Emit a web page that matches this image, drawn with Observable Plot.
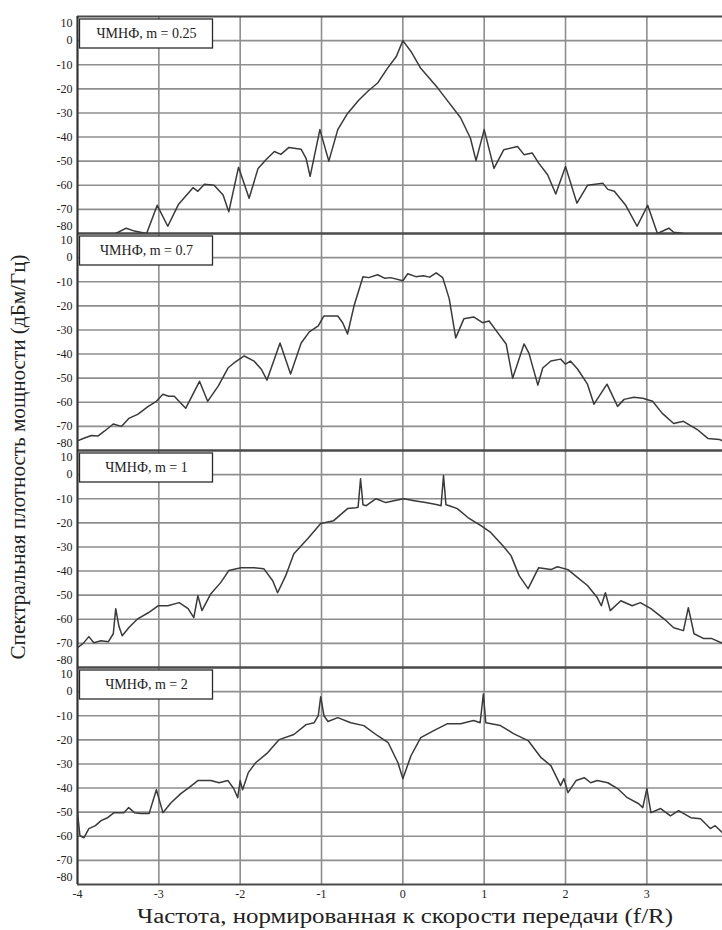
<!DOCTYPE html>
<html><head><meta charset="utf-8">
<script src="https://cdn.jsdelivr.net/npm/d3@7"></script>
<script src="https://cdn.jsdelivr.net/npm/@observablehq/plot@0.6"></script>
<style>body{margin:0;background:#fff;}</style>
</head><body><div id="chart"></div>
<script>
const panelKeys = ["0.25", "0.7", "1", "2"];
const panelLabels = ["ЧМНФ, m = 0.25", "ЧМНФ, m = 0.7", "ЧМНФ, m = 1", "ЧМНФ, m = 2"];

const f025 = [-4.0,-3.6,-3.5,-3.4,-3.3,-3.15,-3.02,-2.89,-2.76,-2.58,-2.52,-2.44,-2.32,-2.21,-2.14,-2.02,-1.89,-1.78,-1.68,-1.58,-1.50,-1.40,-1.25,-1.19,-1.14,-1.02,-0.91,-0.80,-0.68,-0.54,-0.43,-0.31,-0.19,-0.08,0,0.10,0.22,0.43,0.55,0.71,0.83,0.90,1.0,1.12,1.24,1.41,1.49,1.59,1.67,1.78,1.88,2.0,2.14,2.27,2.46,2.52,2.6,2.74,2.88,3.01,3.13,3.27,3.33,3.45,3.6,3.93];
const p025 = [-84,-81,-79.5,-77.8,-79,-80,-68.3,-77,-68,-61,-62.5,-59.6,-60,-64,-71,-52.5,-65.4,-53,-49.3,-46,-47.2,-44.3,-45.1,-48.8,-56.3,-36.9,-50,-36.9,-30.2,-24.6,-21,-17.6,-11.5,-6.6,0,-4.5,-11.5,-19.7,-25,-32,-40.4,-49.8,-36.9,-53,-45.3,-43.9,-47.3,-46.6,-50.8,-55.6,-63.6,-52.2,-67.4,-60,-59.2,-61.7,-62.5,-68.3,-77,-68.3,-80,-77.8,-79.5,-80,-82,-85];

const f07 = [-4.0,-3.93,-3.83,-3.75,-3.67,-3.56,-3.46,-3.37,-3.26,-3.13,-3.03,-2.95,-2.88,-2.81,-2.67,-2.5,-2.4,-2.27,-2.15,-2.08,-1.95,-1.83,-1.74,-1.67,-1.51,-1.38,-1.25,-1.15,-1.04,-0.97,-0.80,-0.74,-0.68,-0.6,-0.49,-0.42,-0.31,-0.22,-0.15,0,0.06,0.16,0.25,0.33,0.41,0.49,0.57,0.65,0.75,0.87,0.98,1.06,1.17,1.27,1.35,1.49,1.55,1.66,1.72,1.82,1.94,2.0,2.06,2.15,2.27,2.35,2.51,2.64,2.72,2.84,2.95,3.07,3.19,3.33,3.45,3.62,3.75,3.89,3.93];
const p07 = [-76,-75,-73.8,-74,-72,-69,-70,-66.7,-65,-61.7,-59.6,-56.7,-57.5,-57.5,-62.5,-51.3,-59.6,-53.3,-45.8,-43.8,-40.8,-42.9,-46.3,-50.8,-35.4,-48.3,-35.4,-30.8,-28.3,-24.2,-24.2,-27,-31.7,-20,-7.9,-8.3,-7.1,-8.6,-8.3,-9.6,-6.7,-7.9,-7.5,-8.1,-6.3,-8.3,-17,-33.3,-25.4,-24.6,-27,-26.3,-31.3,-35.8,-50,-35.8,-39.6,-52.9,-45.8,-42.9,-42.1,-44.2,-42.9,-46.3,-52.5,-60.8,-52.5,-61.7,-58.8,-57.9,-58.3,-59.6,-64.6,-68.8,-67.9,-71.3,-75,-75.4,-76];

const f1 = [-4.0,-3.93,-3.86,-3.80,-3.71,-3.62,-3.56,-3.53,-3.49,-3.45,-3.37,-3.26,-3.13,-3.01,-2.89,-2.75,-2.64,-2.57,-2.52,-2.47,-2.36,-2.24,-2.14,-1.99,-1.83,-1.71,-1.60,-1.54,-1.44,-1.34,-1.17,-1.01,-0.85,-0.68,-0.58,-0.55,-0.52,-0.49,-0.45,-0.33,-0.21,-0.11,0.01,0.14,0.28,0.41,0.47,0.50,0.53,0.58,0.67,0.80,0.96,1.08,1.23,1.33,1.43,1.54,1.67,1.82,1.90,2.03,2.15,2.27,2.39,2.44,2.49,2.55,2.68,2.82,2.92,3.05,3.21,3.33,3.45,3.51,3.58,3.70,3.80,3.93];
const p1 = [-71.8,-70,-67.2,-69.7,-68.9,-69.3,-66,-55.6,-63,-66.8,-63.5,-59.8,-57.3,-54.4,-54.4,-53.1,-55.6,-59.3,-50.2,-56.4,-49.4,-44.8,-39.8,-38.6,-38.6,-39,-44,-49,-41.9,-32.8,-26.6,-20.3,-19.1,-14.1,-13.7,-13.5,-1.7,-12.5,-12.9,-10,-11.6,-10.8,-10,-10.8,-11.6,-12.4,-12.9,-0.4,-12.5,-13,-14.1,-17.8,-21.2,-24,-29.5,-33.6,-41.9,-47.3,-38.6,-39.4,-38.2,-39.4,-42.7,-46,-51,-54.4,-49,-56.4,-52.3,-54.4,-53.1,-55.6,-59.8,-63.5,-64.7,-55.2,-66,-68,-68,-70];

const f2 = [-4.0,-3.97,-3.92,-3.86,-3.78,-3.71,-3.63,-3.55,-3.43,-3.37,-3.30,-3.22,-3.12,-3.03,-2.95,-2.85,-2.73,-2.63,-2.52,-2.36,-2.26,-2.15,-2.08,-2.03,-2.0,-1.97,-1.90,-1.81,-1.66,-1.52,-1.34,-1.19,-1.09,-1.04,-1.01,-0.97,-0.92,-0.80,-0.64,-0.48,-0.31,-0.18,-0.06,0.0,0.10,0.22,0.38,0.55,0.71,0.87,0.95,0.99,1.02,1.20,1.36,1.54,1.70,1.82,1.94,1.98,2.03,2.13,2.23,2.31,2.39,2.52,2.64,2.76,2.90,2.95,3.0,3.05,3.17,3.29,3.39,3.54,3.66,3.78,3.84,3.93];
const p2 = [-50.2,-59.8,-60.6,-56.8,-55.6,-53.5,-52.3,-50.2,-50.2,-48.1,-50.2,-50.6,-50.6,-40.7,-50.2,-46.1,-42.3,-39.8,-36.9,-36.9,-37.8,-36.9,-40.2,-44,-36.9,-40.7,-33.6,-29.5,-25.3,-19.9,-17.8,-13.7,-12.9,-10,-2.1,-10,-12.4,-10.8,-12.9,-14.1,-18.3,-21.2,-29.5,-36.1,-26.6,-19.1,-16.2,-13.3,-13.3,-12,-12.9,-1,-12.9,-14.1,-17.4,-20.3,-27.4,-30.7,-39,-36.1,-41.9,-36.9,-35.7,-37.8,-36.9,-37.8,-40.2,-44,-46.5,-48.1,-40.2,-50.2,-48.5,-51.5,-49.4,-52.3,-52.7,-56.8,-55.6,-58.5];

const xTicks = [-4, -3, -2, -1, 0, 1, 2, 3];
const yTicks = [10, 0, -10, -20, -30, -40, -50, -60, -70, -80];
const xDomain = [-4, 3.93];
const yLabel = "Спектральная плотность мощности (дБм/Гц)";
const xLabel = "Частота, нормированная к скорости передачи (f/R)";

const freqs = [f025, f07, f1, f2];
const powers = [p025, p07, p1, p2];
const rows = [];
panelKeys.forEach((k, i) => freqs[i].forEach((f, j) => rows.push({panel: k, f, p: powers[i][j]})));
const legendRows = panelKeys.map((k, i) => ({panel: k, label: panelLabels[i]}));

const serif = "Liberation Serif";
const gridColor = "#8e8e8e";

function legendBox(index, scales, values, dimensions) {
  const r = document.createElementNS("http://www.w3.org/2000/svg", "rect");
  r.setAttribute("x", dimensions.marginLeft + 2.5);
  r.setAttribute("y", dimensions.marginTop + 3);
  r.setAttribute("width", 133);
  r.setAttribute("height", 29);
  r.setAttribute("fill", "#fff");
  r.setAttribute("stroke", "#2a2a2a");
  r.setAttribute("stroke-width", 1.3);
  return r;
}

const fmt = d => String(d);
const axisOpts = {tickSize: 0, tickPadding: 5, fontSize: 12, fontFamily: serif, fill: "#222", label: null, tickFormat: fmt};

const chart = Plot.plot({
  width: 722,
  height: 930,
  marginLeft: 77,
  marginRight: 0,
  marginTop: 15,
  marginBottom: 46,
  style: {fontFamily: serif, background: "#fff"},
  x: {domain: xDomain},
  y: {domain: [yTicks.at(-1), yTicks[0]]},
  fy: {domain: panelKeys, padding: 0, axis: null},
  marks: [
    Plot.gridY(yTicks.slice(1, -1), {stroke: gridColor, strokeOpacity: 1, strokeWidth: 1.6}),
    Plot.gridX(xTicks.slice(1), {stroke: gridColor, strokeOpacity: 1, strokeWidth: 1.6}),
    Plot.ruleY([yTicks[0], yTicks.at(-1)], {stroke: "#4a4a4a", strokeWidth: 2.2}),
    Plot.ruleX([xTicks[0]], {stroke: "#333", strokeWidth: 2.2}),
    Plot.line(rows, {x: "f", y: "p", fy: "panel", stroke: "#3a3a3a", strokeWidth: 1.5, clip: true}),
    legendBox,
    Plot.text(legendRows, {fy: "panel", text: "label", frameAnchor: "top-left", textAnchor: "middle", lineAnchor: "middle", dx: 69, dy: 17.5, fontSize: 14, fontFamily: serif, fill: "#222"}),
    Plot.axisY(yTicks.slice(1, -1), axisOpts),
    Plot.axisY([yTicks[0]], {...axisOpts, dy: 7}),
    Plot.axisY([yTicks.at(-1)], {...axisOpts, dy: -7}),
    Plot.axisX(xTicks, {...axisOpts, tickPadding: 5})
  ]
});

const svg = chart.tagName.toLowerCase() === "svg" ? chart : chart.querySelector("svg");
const s = d3.select(svg);
s.append("text")
  .attr("transform", "translate(20,457) rotate(-90)")
  .attr("text-anchor", "middle")
  .attr("dominant-baseline", "middle")
  .style("font-family", serif)
  .style("font-size", "20px")
  .attr("textLength", 405)
  .attr("lengthAdjust", "spacingAndGlyphs")
  .attr("fill", "#222")
  .text(yLabel);
s.append("text")
  .attr("x", 405)
  .attr("y", 923)
  .attr("text-anchor", "middle")
  .style("font-family", serif)
  .style("font-size", "20px")
  .attr("textLength", 536)
  .attr("lengthAdjust", "spacingAndGlyphs")
  .attr("fill", "#222")
  .text(xLabel);

document.getElementById("chart").append(chart);
</script>
</body></html>
